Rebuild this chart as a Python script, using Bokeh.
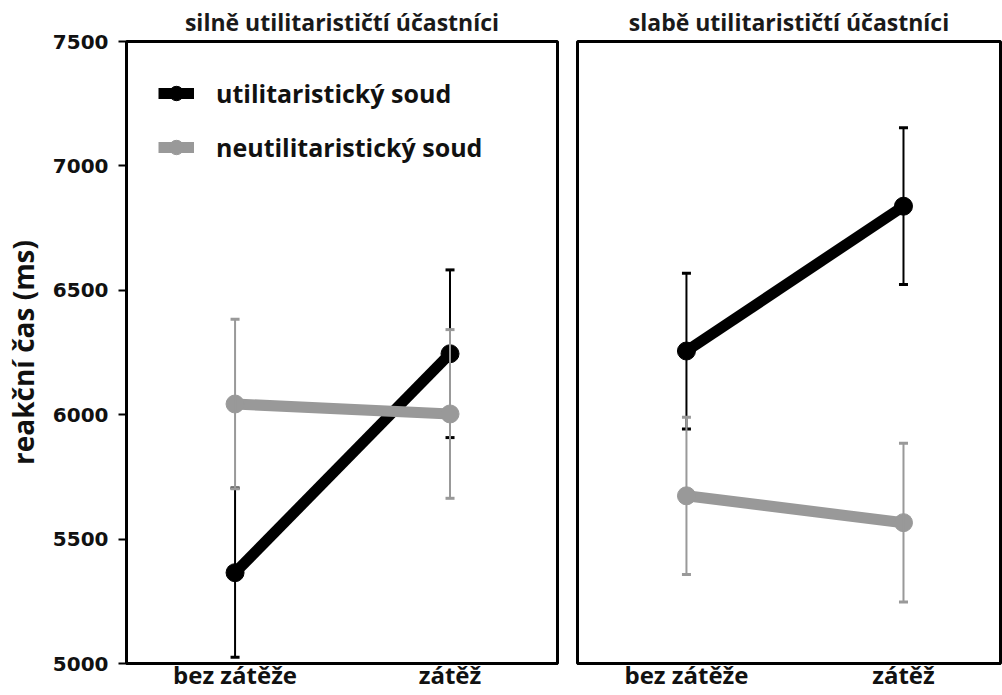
from bokeh.plotting import figure
from bokeh.models import Range1d, FixedTicker, Whisker, ColumnDataSource, Legend, LegendItem, TeeHead
from bokeh.layouts import row
from bokeh.embed import file_html
from bokeh.resources import INLINE

categories = ["bez zátěže", "zátěž"]
panel_titles = ["silně utilitarističtí účastníci", "slabě utilitarističtí účastníci"]
series_names = ["utilitaristický soud", "neutilitaristický soud"]
series_colors = ["#000000", "#999999"]

strong_util_mean = [5365, 6245]
strong_util_err = [340, 337]
strong_neutil_mean = [6043, 6003]
strong_neutil_err = [341, 339]

weak_util_mean = [6256, 6838]
weak_util_err = [313, 315]
weak_neutil_mean = [5674, 5566]
weak_neutil_err = [316, 319]

y_ticks = [5000, 5500, 6000, 6500, 7000, 7500]
y_min, y_max = 5000, 7500

FONT = "Open Sans"


def make_panel(title, util_mean, util_err, neutil_mean, neutil_err,
               width, x_start, x_end, border_left, border_right, show_y, show_legend):
    p = figure(width=width, height=695, output_backend="svg", toolbar_location=None,
               x_range=Range1d(x_start, x_end), y_range=Range1d(y_min, y_max),
               min_border_left=border_left, min_border_right=border_right,
               min_border_top=40, min_border_bottom=32)
    p.background_fill_color = "white"
    p.border_fill_color = "white"
    p.outline_line_color = "black"
    p.outline_line_width = 3
    p.xgrid.visible = False
    p.ygrid.visible = False

    p.title.text = title
    p.title.align = "center"
    p.title.text_font = FONT
    p.title.text_font_style = "bold"
    p.title.text_font_size = "23px"
    p.title.text_color = "#1a1a1a"
    p.title.standoff = 7
    p.title.offset = 0

    xs = list(range(len(categories)))
    renderers = []
    for mean, err, color, lw in [(util_mean, util_err, series_colors[0], 11),
                                 (neutil_mean, neutil_err, series_colors[1], 11)]:
        src = ColumnDataSource(dict(
            x=xs, y=mean,
            upper=[m + e for m, e in zip(mean, err)],
            lower=[m - e for m, e in zip(mean, err)]))
        w = Whisker(source=src, base="x", upper="upper", lower="lower",
                    line_color=color, line_width=2, level="glyph",
                    upper_head=TeeHead(size=9, line_color=color, line_width=3),
                    lower_head=TeeHead(size=9, line_color=color, line_width=3))
        p.add_layout(w)
        ln = p.line("x", "y", source=src, line_color=color, line_width=lw)
        sc = p.scatter("x", "y", source=src, size=18, fill_color=color, line_color=color)
        renderers.append((ln, sc))

    # x axis
    xa = p.xaxis[0]
    xa.ticker = FixedTicker(ticks=xs)
    xa.major_label_overrides = {i: c for i, c in zip(xs, categories)}
    xa.major_tick_out = 0
    xa.major_tick_in = 0
    xa.minor_tick_out = 0
    xa.minor_tick_in = 0
    xa.axis_line_width = 3
    xa.axis_line_color = "black"
    xa.major_label_text_font = FONT
    xa.major_label_text_font_style = "bold"
    xa.major_label_text_font_size = "24px"
    xa.major_label_text_color = "#111111"
    xa.major_label_standoff = -6

    ya = p.yaxis[0]
    if show_y:
        ya.ticker = FixedTicker(ticks=y_ticks)
        ya.major_tick_out = 8
        ya.major_tick_in = 0
        ya.minor_tick_out = 0
        ya.minor_tick_in = 0
        ya.axis_line_width = 3
        ya.major_tick_line_width = 2
        ya.major_label_text_font = "DejaVu Sans"
        ya.major_label_text_font_style = "bold"
        ya.major_label_text_font_size = "20px"
        ya.major_label_text_color = "#111111"
        ya.major_label_standoff = 10
        ya.axis_label = "reakční čas (ms)"
        ya.axis_label_text_font = FONT
        ya.axis_label_text_font_style = "bold"
        ya.axis_label_text_font_size = "28px"
        ya.axis_label_text_color = "#111111"
        ya.axis_label_standoff = 8
    else:
        ya.visible = False

    if show_legend:
        items = [LegendItem(label=series_names[i], renderers=list(renderers[i]))
                 for i in range(len(series_names))]
        leg = Legend(items=items, location="top_left")
        leg.margin = 32
        leg.padding = 10
        leg.spacing = 14
        leg.glyph_width = 36
        leg.glyph_height = 40
        leg.label_height = 40
        leg.label_standoff = 22
        leg.label_text_font = FONT
        leg.label_text_font_style = "bold"
        leg.label_text_font_size = "25px"
        leg.label_text_color = "#111111"
        leg.border_line_color = None
        leg.background_fill_alpha = 0
        p.add_layout(leg)
    return p


p1 = make_panel(panel_titles[0], strong_util_mean, strong_util_err,
                strong_neutil_mean, strong_neutil_err,
                width=567, x_start=-0.505, x_end=1.5, border_left=120, border_right=10,
                show_y=True, show_legend=True)
p2 = make_panel(panel_titles[1], weak_util_mean, weak_util_err,
                weak_neutil_mean, weak_neutil_err,
                width=435, x_start=-0.502, x_end=1.447, border_left=10, border_right=2,
                show_y=False, show_legend=False)

layout = row(p1, p2)
open("out.html", "w").write(file_html(layout, INLINE))
